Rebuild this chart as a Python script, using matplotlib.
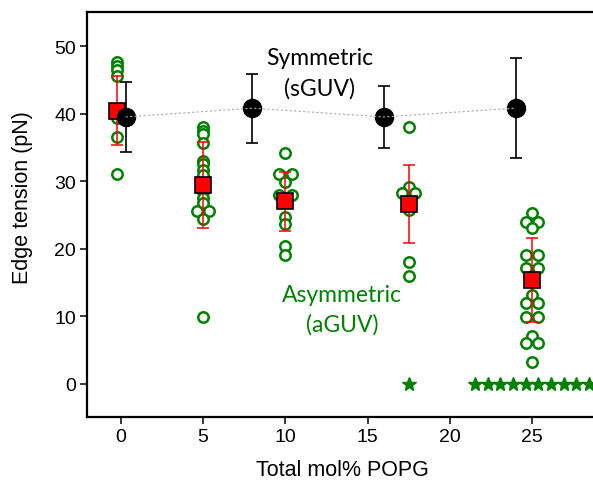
import numpy as np
import matplotlib
matplotlib.use("Agg")
import matplotlib.pyplot as plt

# asymmetric vesicles (aGUV): single values per composition
asym_x = [-0.2, 5, 10, 17.5, 25]
asym_vals = [
    [47.7, 47.0, 46.4, 45.5, 39.3, 36.6, 31.1],
    [38.0, 37.4, 36.9, 35.7, 33.0, 32.6, 31.6, 30.9, 28.4, 27.5, 26.8, 25.5, 25.5, 24.4, 9.9],
    [34.1, 31.0, 31.0, 29.8, 28.0, 28.0, 24.7, 23.7, 20.4, 19.0],
    [38.0, 29.1, 28.3, 28.3, 25.7, 18.0, 16.0],
    [25.2, 24.0, 24.0, 23.0, 19.0, 19.0, 17.1, 17.1, 13.1, 12.0, 12.0, 9.9, 9.9, 7.0, 6.0, 6.0, 3.2],
]
asym_zero = [0, 0, 0, 1, 10]   # vesicles with no measurable edge tension
asym_mean = [40.4, 29.4, 27.0, 26.6, 15.3]
asym_sd = [5.1, 6.35, 4.4, 5.8, 6.25]

# symmetric vesicles (sGUV)
sym_x = [0.3, 8, 16, 24]
sym_mean = [39.5, 40.8, 39.5, 40.8]
sym_sd = [5.25, 5.1, 4.55, 7.4]

green = "#008000"
step = 0.77  # side by side spacing of equal values


def spread(vals):
    # equal values are put next to each other, centred on the column
    xs, ys = [], []
    for v in sorted(set(vals), reverse=True):
        n = vals.count(v)
        for i in range(n):
            xs.append((i - (n - 1) / 2) * step)
            ys.append(v)
    return np.array(xs), np.array(ys)


plt.rcParams["font.family"] = ["Liberation Sans", "DejaVu Sans"]

fig = plt.figure(figsize=(5.93, 4.81), dpi=100)
ax = fig.add_axes([0.1472, 0.1304, 0.8528, 0.8419])

for x, vals, nz in zip(asym_x, asym_vals, asym_zero):
    dx, ys = spread(vals)
    ax.plot(x + dx, ys, "o", ms=7.5, mfc="white", mec=green, mew=1.8, zorder=2)
    if nz:
        dx, ys = spread([0.0] * nz)
        ax.plot(x + dx, ys, "*", ms=10.5, color=green, mec=green, zorder=2)

ax.errorbar(asym_x, asym_mean, yerr=asym_sd, fmt="none", ecolor="red",
            elinewidth=1.1, capsize=4, capthick=1.1, zorder=3)
ax.plot(asym_x, asym_mean, "s", ms=11, mfc="red", mec="black", mew=1.2, zorder=4)

ax.errorbar(sym_x, sym_mean, yerr=sym_sd, fmt="none", ecolor="black",
            elinewidth=1.2, capsize=4, capthick=1.2, zorder=5)
ax.plot(sym_x, sym_mean, "o", ms=13, color="black", zorder=6)
ax.plot(sym_x, sym_mean, color="#aaaaaa", lw=0.8, ls=(0, (2, 2)), zorder=7)

ax.text(12.1, 46.0, "Symmetric\n(sGUV)", ha="center", va="center",
        fontsize=16.5, family=["Lato", "DejaVu Sans"], linespacing=1.5)
ax.text(13.45, 11.0, "Asymmetric\n(aGUV)", ha="center", va="center",
        fontsize=16.5, color=green, family=["Lato", "DejaVu Sans"], linespacing=1.5)

ax.set_xlim(-2.03, 28.7)
ax.set_ylim(-5, 55)
ax.set_xticks([0, 5, 10, 15, 20, 25])
ax.set_yticks([0, 10, 20, 30, 40, 50])
ax.tick_params(labelsize=14, width=1.1, length=5, pad=3)
for s in ["left", "bottom", "top"]:
    ax.spines[s].set_linewidth(1.6)
ax.spines["right"].set_visible(False)

ax.set_xlabel("Total mol% POPG", fontsize=15.5)
ax.set_ylabel("Edge tension (pN)", fontsize=15.5)
ax.xaxis.set_label_coords(0.505, -0.103)
ax.yaxis.set_label_coords(-0.107, 0.544)

fig.savefig("out.png", dpi=100)
